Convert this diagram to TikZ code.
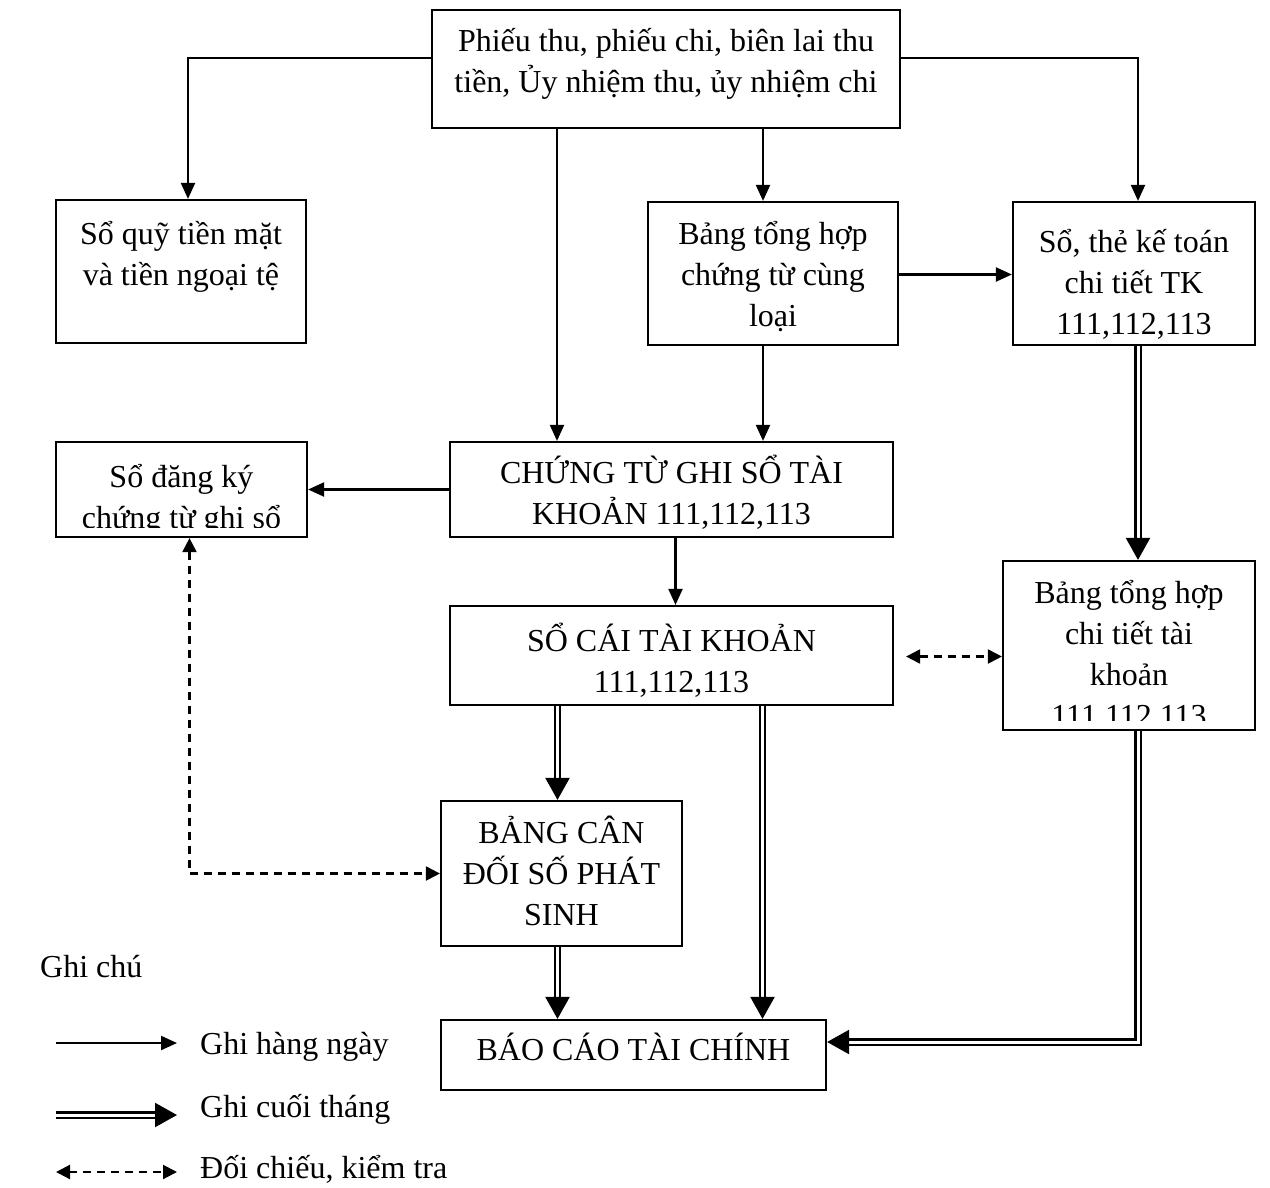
\documentclass[tikz,border=0pt]{standalone}
\usepackage{fontspec}
\setmainfont{Liberation Serif}
\usetikzlibrary{arrows.meta,calc}

\tikzset{
  box/.style={draw, line width=2.2pt, rectangle, inner sep=0pt},
  txt/.style={font=\fontsize{32}{41}\selectfont, inner sep=0pt},
  arr/.style={line width=2.1pt, -{Triangle[length=16pt,width=14pt]}},
  dbl/.style={double, double distance=3pt, line width=2.2pt, -{Triangle[length=22pt,width=24pt]}},
  chk/.style={line width=2.1pt, dash pattern=on 8pt off 6pt,
    {Triangle[length=14pt,width=14pt]}-{Triangle[length=14pt,width=14pt]}}
}

% #1 name, #2..#5 corners (x1,y1,x2,y2), #6 first baseline below top,
% #7 bottom inset of the text area, #8 text
\newcommand\flowbox[8]{%
  \node[box, minimum width={(#4-#2)*1pt}, minimum height={(#5-#3)*1pt},
    path picture={
      \clip ($(path picture bounding box.south west)+(0,#7pt)$)
        rectangle (path picture bounding box.north east);
      \node[txt, anchor=base] (#1-text) at ($(path picture bounding box.north)+(0,-#6pt)$)
        {\parbox[t]{600pt}{\centering #8}};
    }] (#1) at ({(#2+#4)/2},{(#3+#5)/2}) {};
}

\begin{document}
\begin{tikzpicture}[x=1pt,y=-1pt]
\useasboundingbox (0,0) rectangle (1270,1187);

% boxes
\flowbox{top}{432}{10}{900}{128}{41}{0}{Phiếu thu, phiếu chi, biên lai thu\\tiền, Ủy nhiệm thu, ủy nhiệm chi}
\flowbox{sq}{56}{200}{306}{343}{44}{0}{Sổ quỹ tiền mặt\\và tiền ngoại tệ}
\flowbox{bt}{648}{202}{898}{345}{42}{0}{Bảng tổng hợp\\chứng từ cùng\\loại}
\flowbox{st}{1013}{202}{1255}{345}{50}{0}{Sổ, thẻ kế toán\\chi tiết TK\\111,112,113}
\flowbox{dk}{56}{442}{307}{537}{45}{10}{Sổ đăng ký\\chứng từ ghi sổ}
\flowbox{ct}{450}{442}{893}{537}{41}{0}{CHỨNG TỪ GHI SỔ TÀI\\KHOẢN 111,112,113}
\flowbox{sc}{450}{606}{893}{705}{45}{0}{SỔ CÁI TÀI KHOẢN\\111,112,113}
\flowbox{bh}{1003}{561}{1255}{730}{42}{10}{Bảng tổng hợp\\chi tiết tài\\khoản\\111,112,113}
\flowbox{bcd}{441}{801}{682}{946}{42}{0}{BẢNG CÂN\\ĐỐI SỐ PHÁT\\SINH}
\flowbox{bc}{441}{1020}{826}{1090}{40}{0}{BÁO CÁO TÀI CHÍNH}

% daily entries
\draw[arr] ([yshift=11pt]top.west) -| ([xshift=7pt]sq.north);
\draw[arr] ([yshift=11pt]top.east) -| ([xshift=4pt]st.north);
\draw[arr] ([xshift=-109pt]top.south) -- ([xshift=-109pt]top.south |- ct.north);
\draw[arr] ([xshift=97pt]top.south) -- ([xshift=97pt]top.south |- bt.north);
\draw[arr] ([xshift=-10pt]bt.south) -- ([xshift=-10pt]bt.south |- ct.north);
\draw[arr] ([yshift=-1pt]bt.east) -- ([yshift=-1pt]bt.east -| st.west);
\draw[arr] (ct.west) -- (dk.east);
\draw[arr] ([xshift=4pt]ct.south) -- ([xshift=4pt]ct.south |- sc.north);

% month-end entries
\draw[dbl] ([xshift=4pt]st.south) -- ([xshift=4pt]st.south |- bh.north);
\draw[dbl] ([xshift=-4pt]bcd.north |- sc.south) -- ([xshift=-4pt]bcd.north);
\draw[dbl] ([xshift=91pt]sc.south) -- ([xshift=91pt]sc.south |- bc.north);
\draw[dbl] ([xshift=-4pt]bcd.south) -- ([xshift=-4pt]bcd.south |- bc.north);
\draw[dbl] ([xshift=9pt]bh.south) |- ([yshift=13pt]bc.east);

% cross-checks
\draw[chk] ([xshift=12pt,yshift=-1pt]sc.east) -- ([yshift=-1pt]sc.east -| bh.west);
\draw[chk] ([xshift=8pt]dk.south) |- (bcd.west);

% legend
\node[txt, anchor=base west] (note) at (40,977) {Ghi chú};
\coordinate (l1a) at (56,1043);  \coordinate (l1b) at (177,1043);
\coordinate (l2a) at (56,1115);  \coordinate (l2b) at (177,1115);
\coordinate (l3a) at (56,1172);  \coordinate (l3b) at (177,1172);
\draw[arr] (l1a) -- (l1b);
\draw[dbl] (l2a) -- (l2b);
\draw[chk] (l3a) -- (l3b);
\node[txt, anchor=base west] (lt1) at (200,1054) {Ghi hàng ngày};
\node[txt, anchor=base west] (lt2) at (200,1117) {Ghi cuối tháng};
\node[txt, anchor=base west] (lt3) at (200,1178) {Đối chiếu, kiểm tra};
\end{tikzpicture}
\end{document}
